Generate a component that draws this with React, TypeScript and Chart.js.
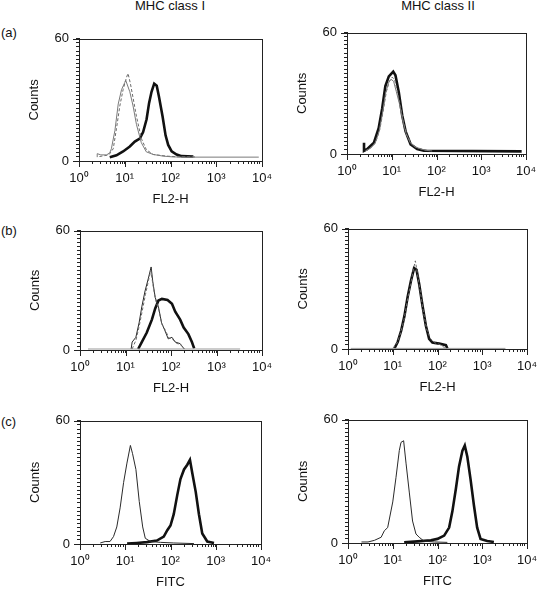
import React, { useEffect, useRef } from 'react';
import { Chart, registerables } from 'chart.js';

Chart.register(...registerables);

const FONT = "'Liberation Sans', Arial, Helvetica, sans-serif";

// ---------- Text ----------
const columnTitles = ['MHC class I', 'MHC class II'];
const rowLetters = ['(a)', '(b)', '(c)'];
const rowXTitles = ['FL2-H', 'FL2-H', 'FITC'];
const yAxisTitle = 'Counts';

// ---------- Ticks ----------
const xDecades = [1, 10, 100, 1000, 10000];
const xTickLabels = ['10⁰', '10¹', '10²', '10³', '10⁴'];
const xMinorMultipliers = [1, 2, 3, 4, 5, 6, 7, 8, 9];
const yTickValues = [0, 2, 4, 6, 8, 10, 12, 14, 16, 18, 20, 22, 24, 26, 28, 30, 32, 34, 36, 38, 40, 42, 44, 46, 48, 50, 52, 54, 56, 58, 60];
const yLabelValues = [0, 60];
const yTickLabels = ['0', '60'];

// ---------- Data: (a) MHC class I ----------
const aI_gray_x = [2.5, 2.5, 3, 4, 4.7, 5.1, 6.1, 7.2, 8.5, 10, 10.5, 12.9, 15.2, 18, 23, 29.6, 42, 69, 115, 224, 8500];
const aI_gray_y = [1.9, 3.6, 3, 3, 4, 6, 15, 28, 35, 38.5, 39.6, 34, 27, 18, 9, 4.5, 3.2, 2.4, 2.0, 1.9, 1.9];
const aI_dash_x = [2.8, 4.5, 5.6, 6.6, 7.8, 9.2, 10.9, 11.8, 13.3, 15.2, 18, 23.1, 29.7, 41.8, 81.6, 160, 370];
const aI_dash_y = [2.2, 3, 6, 16, 27, 35, 41, 43, 38, 31, 22, 11, 5.5, 3.2, 2.4, 2, 2];
const aI_thick_x = [4.7, 6.6, 9.2, 12.9, 16.6, 21.3, 25.2, 30, 34, 38.5, 44, 50, 56, 67, 78, 89, 106, 136, 175, 316];
const aI_thick_y = [1.9, 2.8, 4.7, 7.1, 9.5, 11, 14.2, 20.5, 28.4, 34, 38, 37, 31.6, 22, 12.6, 7.9, 4.7, 3.2, 2.4, 2.2];

// ---------- Data: (a) MHC class II ----------
const aII_gray_x = [2.6, 3.2, 4.2, 5.2, 6.2, 7.3, 8.5, 9.6, 11, 12.6, 14.8, 17.5, 21, 26, 33, 45, 60, 80];
const aII_gray_y = [1.6, 2.6, 5, 11, 20, 30, 35.5, 37, 36, 31, 25, 17, 10, 5.5, 3.5, 2.5, 1.8, 1.5];
const aII_dash_x = [2.6, 3.4, 4.4, 5.4, 6.4, 7.6, 8.9, 10.2, 11.5, 13, 15.5, 18.5, 22, 28, 36, 50, 70];
const aII_dash_y = [1.5, 3, 6, 12, 21, 31, 36, 38, 37, 32, 24, 15, 9, 5, 3.2, 2.2, 1.6];
const aII_thick_x = [2.4, 2.4, 2.8, 4.0, 5.1, 6.1, 7.2, 8.6, 10.8, 12.1, 14.4, 17.1, 20.4, 26.4, 37, 52, 8000];
const aII_thick_y = [5.6, 1.6, 2.4, 5.6, 12.8, 22.4, 33.6, 38.4, 40.8, 39, 30.4, 19.2, 11.2, 4.8, 2.4, 1.6, 1.3];

// ---------- Data: (b) MHC class I ----------
const bI_base_x = [1.5, 3300];
const bI_base_y = [0.5, 0.5];
const bI_dash_x = [14, 17, 20, 23.5, 27.5, 32, 36, 40, 46, 54, 63, 75, 90, 108, 130, 165, 200];
const bI_dash_y = [0.5, 5, 12, 20, 28, 35, 40, 33, 25, 20, 13, 10, 6, 5.5, 3.5, 2.5, 0.5];
const bI_thin_x = [13.3, 14, 16.9, 19.9, 22.8, 26.9, 31.9, 36.6, 39.7, 44.9, 53, 62, 74, 87, 105, 124, 159, 195];
const bI_thin_y = [0.5, 4, 6.4, 13.7, 21.7, 29.7, 36.2, 41.8, 34.6, 26.5, 21.7, 13.7, 9.6, 5.6, 6.4, 4, 3.2, 0.5];
const bI_thick_x = [19, 22.8, 29.4, 38, 45, 53, 63, 84, 105, 124, 159, 190, 241, 288, 323];
const bI_thick_y = [0.5, 4, 8.8, 15.3, 20.9, 24.9, 25.7, 25.2, 23.3, 19.3, 15.3, 11.3, 8, 4, 0.8];

// ---------- Data: (b) MHC class II ----------
const bII_base_x = [1.15, 3300];
const bII_base_y = [0.3, 0.3];
const bII_dash_x = [10, 12.5, 15, 18, 21.5, 25.5, 29, 32, 36, 41, 48, 57, 70, 90, 120, 150];
const bII_dash_y = [0.3, 3, 8, 15, 25, 33, 40, 44, 37, 29, 19, 10, 5, 3, 2, 0.3];
const bII_thick_x = [10.9, 12.9, 15.4, 18.2, 21.5, 25.5, 30, 34, 39, 46.5, 55, 65, 77, 109, 154, 166];
const bII_thick_y = [0.3, 3.5, 9.1, 16.4, 26, 34, 40.4, 39.6, 32.4, 21.2, 11.6, 5.1, 3.2, 2.7, 1.9, 0.3];

// ---------- Data: (c) MHC class I ----------
const cI_thin_x = [2.8, 3.6, 4.6, 5.5, 6.5, 7.7, 9.2, 10.9, 13, 14.5, 17.2, 20.4, 24.3, 27.7, 36, 60, 118, 330];
const cI_thin_y = [0.5, 1.2, 1.2, 3.6, 8.3, 17.6, 30, 39.4, 48, 44, 36.3, 20.7, 8.3, 2.8, 1.2, 0.8, 0.5, 0.2];
const cI_thick_x = [11, 18, 30, 50, 71, 85, 100, 118, 141, 166, 199, 235, 269, 302, 361, 425, 503, 650, 916];
const cI_thick_y = [0.2, 0.5, 0.9, 1.7, 3.6, 6.7, 9, 14.5, 23.8, 31.6, 36.3, 38.6, 41, 34.7, 25.4, 14.5, 5.1, 1.2, 0.5];

// ---------- Data: (c) MHC class II ----------
const cII_thin_x = [2.0, 2.8, 3.9, 5.5, 6.5, 7.7, 10, 11.8, 14, 15.3, 17.5, 19.8, 23.4, 27.7, 33, 39, 50, 85, 166];
const cII_thin_y = [0.5, 0.5, 1.3, 2.8, 6, 7.5, 20, 31.8, 45, 49, 49.8, 38.9, 24.8, 10.7, 4.4, 2.8, 0.9, 0.5, 0.3];
const cII_thick_x = [18, 36, 71, 100, 141, 182, 215, 257, 303, 361, 407, 464, 548, 650, 770, 916, 1290, 1820];
const cII_thick_y = [0.3, 0.8, 1.3, 2, 3.6, 7.5, 15.4, 26.3, 37.3, 45, 47.5, 42, 31, 18.5, 7.5, 2, 1, 0.5];

// ---------- Styles & layout ----------
type StyleKey = 'thick' | 'thin' | 'gray' | 'dash' | 'base';
const LINE_STYLES: Record<StyleKey, any> = {
  thick: { borderColor: '#111', borderWidth: 2.6 },
  thin: { borderColor: '#2a2a2a', borderWidth: 1 },
  gray: { borderColor: '#7a7a7a', borderWidth: 1 },
  dash: { borderColor: '#6a6a6a', borderWidth: 1, borderDash: [3, 2] },
  base: { borderColor: '#999', borderWidth: 1 },
};

interface Curve { xs: number[]; ys: number[]; style: StyleKey }

const panelCurves: Curve[][] = [
  [
    { xs: aI_gray_x, ys: aI_gray_y, style: 'gray' },
    { xs: aI_dash_x, ys: aI_dash_y, style: 'dash' },
    { xs: aI_thick_x, ys: aI_thick_y, style: 'thick' },
  ],
  [
    { xs: aII_gray_x, ys: aII_gray_y, style: 'gray' },
    { xs: aII_dash_x, ys: aII_dash_y, style: 'dash' },
    { xs: aII_thick_x, ys: aII_thick_y, style: 'thick' },
  ],
  [
    { xs: bI_base_x, ys: bI_base_y, style: 'base' },
    { xs: bI_dash_x, ys: bI_dash_y, style: 'dash' },
    { xs: bI_thin_x, ys: bI_thin_y, style: 'thin' },
    { xs: bI_thick_x, ys: bI_thick_y, style: 'thick' },
  ],
  [
    { xs: bII_base_x, ys: bII_base_y, style: 'base' },
    { xs: bII_dash_x, ys: bII_dash_y, style: 'dash' },
    { xs: bII_thick_x, ys: bII_thick_y, style: 'thick' },
  ],
  [
    { xs: cI_thin_x, ys: cI_thin_y, style: 'thin' },
    { xs: cI_thick_x, ys: cI_thick_y, style: 'thick' },
  ],
  [
    { xs: cII_thin_x, ys: cII_thin_y, style: 'thin' },
    { xs: cII_thick_x, ys: cII_thick_y, style: 'thick' },
  ],
];

// chart-area boxes (page px)
const panelAreas = [
  { l: 79, t: 34, r: 262, b: 161 },
  { l: 347, t: 28, r: 526, b: 154 },
  { l: 80, t: 226, r: 262, b: 350 },
  { l: 348, t: 224, r: 527, b: 349 },
  { l: 80, t: 416, r: 261, b: 544 },
  { l: 348, t: 415, r: 527, b: 543 },
];

const Y_AXIS_W = 60;
const X_AXIS_H = 46;
const PAD_TOP = 10;
const PAD_RIGHT = 30;

const framePlugin = {
  id: 'panelFrame',
  afterDraw(chart: any) {
    const { ctx, chartArea, scales } = chart;
    const { left, top, right, bottom } = chartArea;
    ctx.save();
    ctx.strokeStyle = '#222';
    ctx.lineWidth = 1;
    ctx.strokeRect(Math.round(left) + 0.5, Math.round(top) + 0.5, Math.round(right - left), Math.round(bottom - top));
    ctx.beginPath();
    xDecades.forEach((v) => {
      const px = Math.round(scales.x.getPixelForValue(v)) + 0.5;
      ctx.moveTo(px, bottom);
      ctx.lineTo(px, bottom + 6);
    });
    yLabelValues.forEach((v) => {
      const py = Math.round(scales.y.getPixelForValue(v)) + 0.5;
      ctx.moveTo(left, py);
      ctx.lineTo(left - 6, py);
    });
    ctx.stroke();
    ctx.restore();
  },
};

function Panel({ index }: { index: number }) {
  const ref = useRef<HTMLCanvasElement>(null);
  const area = panelAreas[index];
  const left = area.l - Y_AXIS_W;
  const top = area.t - PAD_TOP;
  const width = area.r + PAD_RIGHT - left;
  const height = area.b + X_AXIS_H - top;
  const xTitle = rowXTitles[Math.floor(index / 2)];

  useEffect(() => {
    if (!ref.current) return;
    const datasets = panelCurves[index].map((c) => ({
      data: c.xs.map((x, i) => ({ x, y: c.ys[i] })),
      pointRadius: 0,
      tension: 0,
      fill: false,
      ...LINE_STYLES[c.style],
    }));
    const tickFont = { family: FONT, size: 13 };
    const chart = new Chart(ref.current, {
      type: 'line',
      data: { datasets },
      plugins: [framePlugin],
      options: {
        responsive: false,
        animation: false,
        layout: { padding: { top: PAD_TOP, right: PAD_RIGHT, left: 0, bottom: 0 } },
        plugins: { legend: { display: false }, tooltip: { enabled: false } },
        scales: {
          x: {
            type: 'logarithmic',
            min: 1,
            max: 10000,
            afterFit: (s: any) => { s.height = X_AXIS_H; },
            afterBuildTicks: (s: any) => {
              const t: any[] = [];
              xDecades.forEach((d) => {
                xMinorMultipliers.forEach((m) => {
                  const v = d * m;
                  if (v <= 10000) t.push({ value: v });
                });
              });
              s.ticks = t;
            },
            grid: { display: true, drawOnChartArea: false, drawTicks: true, tickLength: 3, tickColor: '#222', tickWidth: 1 },
            border: { display: true, color: '#222', width: 1 },
            ticks: {
              autoSkip: false,
              maxRotation: 0,
              minRotation: 0,
              padding: 7,
              color: '#111',
              font: tickFont,
              callback: (v: any) => {
                const n = Number(v);
                const i = xDecades.findIndex((d) => Math.abs(n - d) / d < 1e-6);
                return i >= 0 ? xTickLabels[i] : '';
              },
            },
            title: { display: true, text: xTitle, color: '#111', font: tickFont, padding: { top: 0, bottom: 0 } },
          },
          y: {
            type: 'linear',
            min: 0,
            max: 60,
            afterFit: (s: any) => { s.width = Y_AXIS_W; },
            afterBuildTicks: (s: any) => { s.ticks = yTickValues.map((v) => ({ value: v })); },
            grid: { display: true, drawOnChartArea: false, drawTicks: true, tickLength: 3, tickColor: '#222', tickWidth: 1 },
            border: { display: true, color: '#222', width: 1 },
            ticks: {
              autoSkip: false,
              padding: 7,
              color: '#111',
              font: tickFont,
              callback: (v: any) => {
                const i = yLabelValues.indexOf(Number(v));
                return i >= 0 ? yTickLabels[i] : '';
              },
            },
            title: { display: true, text: yAxisTitle, color: '#111', font: tickFont, padding: { top: 8, bottom: 0 } },
          },
        },
      } as any,
    });
    return () => chart.destroy();
  }, [index]);

  return (
    <canvas
      ref={ref}
      width={width}
      height={height}
      style={{ position: 'absolute', left, top, width, height }}
    />
  );
}

const textStyle: React.CSSProperties = {
  position: 'absolute',
  fontFamily: FONT,
  fontSize: 13,
  color: '#111',
  lineHeight: '16px',
  whiteSpace: 'nowrap',
};

const columnCenters = [170, 438];
const rowLetterCenters = [33, 231, 422];

export default function App() {
  return (
    <div style={{ position: 'absolute', left: 0, top: 0, width: 538, height: 589, background: '#fff', overflow: 'hidden' }}>
      {columnTitles.map((t, i) => (
        <div key={t} style={{ ...textStyle, left: columnCenters[i] - 60, width: 120, textAlign: 'center', top: -2 }}>{t}</div>
      ))}
      {rowLetters.map((t, i) => (
        <div key={t} style={{ ...textStyle, left: 1, top: rowLetterCenters[i] - 8 }}>{t}</div>
      ))}
      {panelAreas.map((_, i) => (
        <Panel key={i} index={i} />
      ))}
    </div>
  );
}
